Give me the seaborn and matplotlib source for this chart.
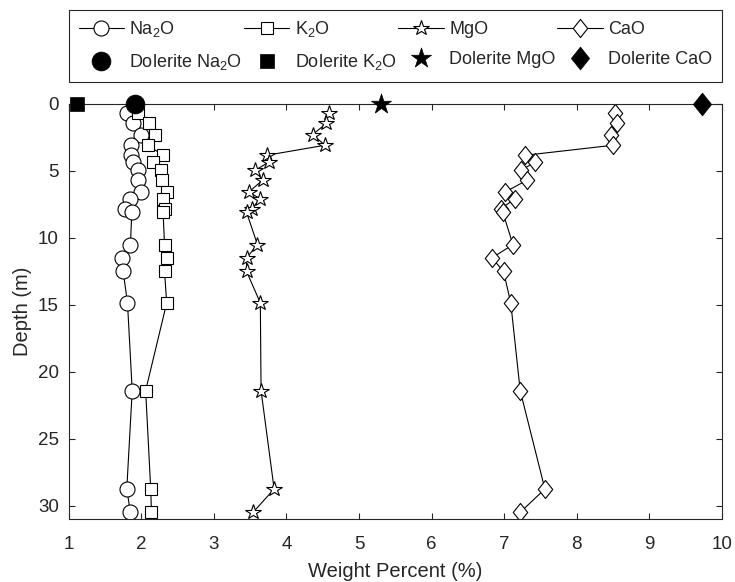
import matplotlib
matplotlib.use("Agg")
import matplotlib.pyplot as plt
from matplotlib.path import Path
import seaborn as sns

# Sample depths (m) and oxide contents (wt %)
depth = [0.65, 1.45, 2.28, 3.08, 3.83, 4.33, 4.95, 5.70, 6.58, 7.08,
         7.83, 8.08, 10.5, 11.5, 12.5, 14.86, 21.41, 28.76, 30.5]
na2o = [1.81, 1.88, 2.00, 1.86, 1.86, 1.88, 1.95, 1.95, 2.00, 1.85,
        1.77, 1.87, 1.85, 1.73, 1.75, 1.81, 1.875, 1.80, 1.85]
k2o = [1.96, 2.10, 2.19, 2.09, 2.30, 2.16, 2.27, 2.29, 2.35, 2.30,
       2.33, 2.30, 2.32, 2.35, 2.32, 2.35, 2.06, 2.13, 2.14]
mgo = [4.58, 4.55, 4.36, 4.53, 3.73, 3.76, 3.57, 3.67, 3.48, 3.64,
       3.52, 3.45, 3.60, 3.45, 3.45, 3.64, 3.65, 3.83, 3.54]
cao = [8.53, 8.55, 8.47, 8.50, 7.29, 7.43, 7.23, 7.31, 7.01, 7.15,
       6.95, 6.98, 7.12, 6.83, 6.99, 7.09, 7.22, 7.56, 7.22]

# Dolerite reference composition, plotted at the surface
dolerite_depth = [0.0]
dolerite_na2o = [1.91]
dolerite_k2o = [1.11]
dolerite_mgo = [5.30]
dolerite_cao = [9.72]

x_ticks = [1, 2, 3, 4, 5, 6, 7, 8, 9, 10]
y_ticks = [0, 5, 10, 15, 20, 25, 30]

sns.set_theme(style="ticks")
plt.rcParams["font.family"] = ["Liberation Sans", "DejaVu Sans"]
plt.rcParams["mathtext.fontset"] = "custom"
plt.rcParams["mathtext.rm"] = "Liberation Sans"
plt.rcParams["mathtext.it"] = "Liberation Sans:italic"

INK = "#262626"
diamond = Path([(0, 1), (0.8, 0), (0, -1), (-0.8, 0), (0, 1)],
               [Path.MOVETO, Path.LINETO, Path.LINETO, Path.LINETO, Path.CLOSEPOLY])

fig = plt.figure(figsize=(7.35, 5.82), dpi=100)
ax = fig.add_axes([68.7 / 735, 1 - 519 / 582, (722 - 68.7) / 735, (519 - 104) / 582])

sub = r"$_\mathregular{2}$"
series = [
    (na2o, "o", 10.8, f"Na{sub}O"),
    (k2o, "s", 8.0, f"K{sub}O"),
    (mgo, "*", 11.5, "MgO"),
    (cao, diamond, 13.0, "CaO"),
]
dolerite = [
    (dolerite_na2o, "o", 185, f"Dolerite Na{sub}O"),
    (dolerite_k2o, "s", 100, f"Dolerite K{sub}O"),
    (dolerite_mgo, "*", 230, "Dolerite MgO"),
    (dolerite_cao, diamond, 270, "Dolerite CaO"),
]

line_handles = []
for vals, mk, ms, lab in series:
    sns.lineplot(x=vals, y=depth, sort=False, estimator=None, ax=ax,
                 color="black", lw=0.8, marker=mk, ms=ms,
                 mfc="white", mec="black", mew=0.8, label=lab, legend=False)
    line_handles.append(ax.lines[-1])

dot_handles = []
for vals, mk, s, lab in dolerite:
    sns.scatterplot(x=vals, y=dolerite_depth, marker=mk, s=s, color="black",
                    edgecolor="black", linewidth=0.5, ax=ax, legend=False,
                    clip_on=False, zorder=5, label=lab)
    dot_handles.append(ax.collections[-1])

ax.set_xlim(1, 10)
ax.set_ylim(31, 0)
ax.set_xticks(x_ticks)
ax.set_yticks(y_ticks)
ax.tick_params(direction="in", top=True, right=True, length=4, width=0.8,
               colors=INK, labelsize=13.5)
ax.tick_params(axis="x", pad=12.5)
ax.tick_params(axis="y", pad=7)
for sp in ax.spines.values():
    sp.set_color(INK)
    sp.set_linewidth(0.8)

ax.set_xlabel("Weight Percent (%)", fontsize=14.5, color=INK, labelpad=6)
ax.set_ylabel("Depth (m)", fontsize=14.5, color=INK, labelpad=4)

handles, labels = [], []
for lh, dh in zip(line_handles, dot_handles):
    handles += [lh, dh]
    labels += [lh.get_label(), dh.get_label()]

leg = ax.legend(handles, labels, ncol=4, mode="expand", loc="lower left",
                bbox_to_anchor=(0, 1.053, 1, 0.17), borderaxespad=0,
                frameon=True, fancybox=False, edgecolor=INK, framealpha=1,
                fontsize=13, handlelength=2.5, handletextpad=0.3,
                labelspacing=0.7, borderpad=0.55, scatterpoints=1,
                scatteryoffsets=[0.5], columnspacing=0.8)
leg.get_frame().set_linewidth(0.8)
for t in leg.get_texts():
    t.set_color(INK)

fig.savefig("out.png", dpi=100)
